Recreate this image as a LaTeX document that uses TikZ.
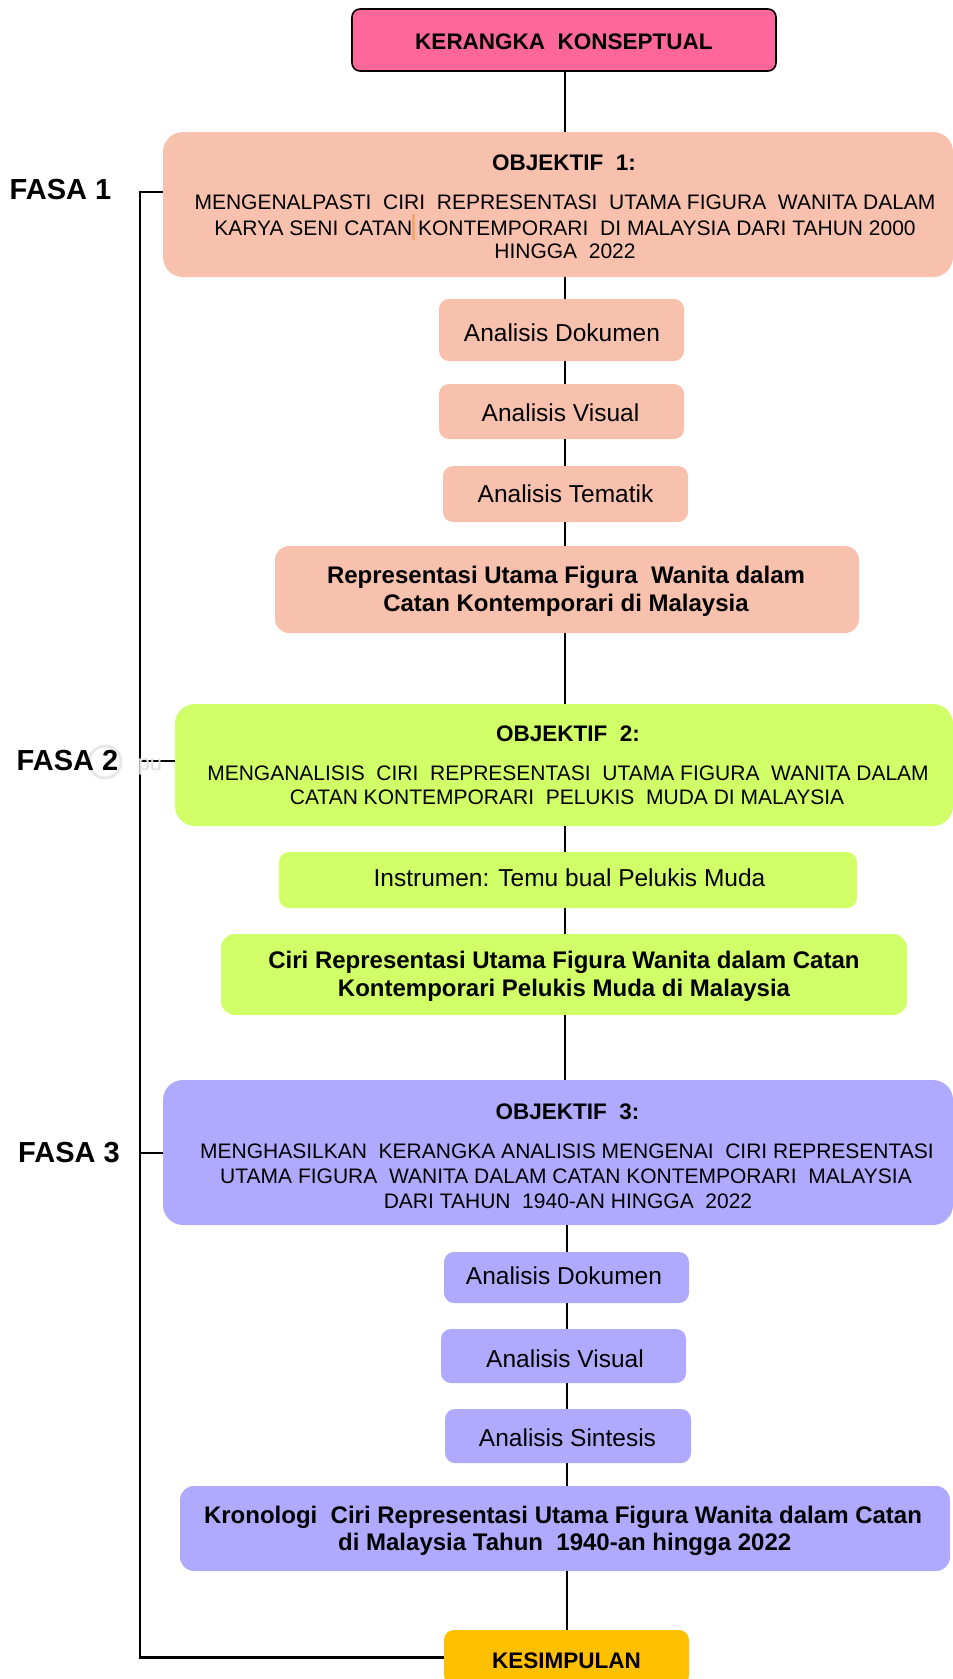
\documentclass[tikz,border=0pt]{standalone}
\usepackage{fontspec}
\setmainfont{Liberation Sans}
\definecolor{kkpink}{HTML}{FF6699}
\definecolor{salmon}{HTML}{F8C1AE}
\definecolor{lime}{HTML}{D0FF68}
\definecolor{lav}{HTML}{B0AAFF}
\definecolor{gold}{HTML}{FFC000}
\definecolor{cursor}{HTML}{F0A870}
\newcommand\myTitle{\bfseries\fontsize{22.5}{26}\selectfont}
\newcommand\myBody{\fontsize{21}{24}\selectfont}
\newcommand\mySmall{\fontsize{24.5}{28}\selectfont}
\newcommand\myBold{\bfseries\fontsize{24}{28}\selectfont}
\newcommand\myFasa{\bfseries\fontsize{29}{33}\selectfont}
\begin{document}
\begin{tikzpicture}[x=1pt,y=-1pt,
  box/.style={rectangle, rounded corners=#1, draw=none, inner sep=0pt, outer sep=0pt},
  box/.default=10pt,
  tl/.style={inner sep=0pt, anchor=base},
  conn/.style={line width=1.8pt, black},
  lline/.style={line width=2.2pt, black}]
\useasboundingbox (0,0) rectangle (953,1679);
\clip (0,0) rectangle (953,1679);
\fill[white] (0,0) rectangle (953,1679);

% spine coordinates
\coordinate (spA) at (565,0);
\coordinate (spB) at (567,0);

% boxes
\node[box=8pt, fill=kkpink, draw=black, line width=1.6pt, minimum width=424pt, minimum height=62pt] (kk) at (564,40) {};
\node[box=20pt, fill=salmon, minimum width=790pt, minimum height=145pt] (o1) at (558,204.5) {};
\node[box, fill=salmon, minimum width=245pt, minimum height=62pt] (ad1) at (561.5,330) {};
\node[box, fill=salmon, minimum width=245pt, minimum height=55pt] (av1) at (561.5,411.5) {};
\node[box, fill=salmon, minimum width=245pt, minimum height=56pt] (at1) at (565.5,494) {};
\node[box=14pt, fill=salmon, minimum width=584pt, minimum height=87pt] (rep) at (567,589.5) {};
\node[box=20pt, fill=lime, minimum width=778pt, minimum height=122pt] (o2) at (564,765) {};
\node[box, fill=lime, minimum width=578pt, minimum height=56pt] (ins) at (568,880) {};
\node[box=14pt, fill=lime, minimum width=686pt, minimum height=81pt] (ciri) at (564,974.5) {};
\node[box=20pt, fill=lav, minimum width=790pt, minimum height=145pt] (o3) at (558,1152.5) {};
\node[box, fill=lav, minimum width=245pt, minimum height=51pt] (ad3) at (566.5,1277.5) {};
\node[box, fill=lav, minimum width=245pt, minimum height=54pt] (av3) at (563.5,1356) {};
\node[box, fill=lav, minimum width=246pt, minimum height=54pt] (as3) at (568,1436) {};
\node[box=14pt, fill=lav, minimum width=770pt, minimum height=85pt] (kr) at (565,1528.5) {};
\node[box, fill=gold, minimum width=245pt, minimum height=55pt] (kes) at (566.5,1657.5) {};

% spine connectors
\foreach \a/\b in {kk/o1, o1/ad1, ad1/av1, av1/at1, at1/rep, rep/o2, o2/ins, ins/ciri, ciri/o3}
  \draw[conn] (\a.south -| spA) -- (\b.north -| spA);
\foreach \a/\b in {o3/ad3, ad3/av3, av3/as3, as3/kr, kr/kes}
  \draw[conn] (\a.south -| spB) -- (\b.north -| spB);

% phase line
\coordinate (t1) at (140,192);
\coordinate (t2) at (140,761);
\coordinate (t3) at (140,1153);
\draw[lline] (t1 -| o1.west) -- (t1) |- (kes.west);
\draw[lline] (t2) -- (t2 -| o2.west);
\draw[lline] (t3) -- (t3 -| o3.west);

% faint watermark near FASA 2
\draw[gray!18, line width=3pt] (105,762) circle (16);
\node[tl, text=gray!25, font=\fontsize{22}{24}\selectfont] (wm2) at (150,770) {pu};

% phase labels
\node[tl, font=\myFasa] (f1) at (60.5,199) {FASA 1};
\node[tl, font=\myFasa] (f2) at (67.5,770) {FASA 2};
\node[tl, font=\myFasa] (f3) at (69,1162) {FASA 3};

% texts
\node[tl, font=\myTitle] (kkt) at (564,49) {KERANGKA~ KONSEPTUAL};

\node[tl, font=\myTitle] (o1t) at (564,170) {OBJEKTIF~ 1:};
\node[tl, font=\myBody] (o1a) at (565,209) {MENGENALPASTI~ CIRI~ REPRESENTASI~ UTAMA FIGURA~ WANITA DALAM};
\node[tl, font=\myBody] (o1b) at (565,235) {KARYA SENI CATAN KONTEMPORARI~ DI MALAYSIA DARI TAHUN 2000};
\node[tl, font=\myBody] (o1c) at (565,258) {HINGGA~ 2022};
\fill[cursor] (412,214) rectangle (415,240);

\node[tl, font=\mySmall] (ad1t) at (562,341.5) {Analisis Dokumen};
\node[tl, font=\mySmall] (av1t) at (560.5,421.5) {Analisis Visual};
\node[tl, font=\mySmall] (at1t) at (565.5,502.5) {Analisis Tematik};
\node[tl, font=\myBold] (rep1) at (566,583) {Representasi Utama Figura~ Wanita dalam};
\node[tl, font=\myBold] (rep2) at (566,611.5) {Catan Kontemporari di Malaysia};

\node[tl, font=\myTitle] (o2t) at (568,741.5) {OBJEKTIF~ 2:};
\node[tl, font=\myBody] (o2a) at (568,780) {MENGANALISIS~ CIRI~ REPRESENTASI~ UTAMA FIGURA~ WANITA DALAM};
\node[tl, font=\myBody] (o2b) at (567,804) {CATAN KONTEMPORARI~ PELUKIS~ MUDA DI MALAYSIA};
\node[tl, font=\mySmall] (inst) at (569.5,886.5) {Instrumen: Temu bual Pelukis Muda};
\node[tl, font=\myBold] (ciri1) at (564,968) {Ciri Representasi Utama Figura Wanita dalam Catan};
\node[tl, font=\myBold] (ciri2) at (564,996) {Kontemporari Pelukis Muda di Malaysia};

\node[tl, font=\myTitle] (o3t) at (567.5,1119.3) {OBJEKTIF~ 3:};
\node[tl, font=\myBody] (o3a) at (567,1158.3) {MENGHASILKAN~ KERANGKA ANALISIS MENGENAI~ CIRI REPRESENTASI};
\node[tl, font=\myBody] (o3b) at (566,1183.3) {UTAMA FIGURA~ WANITA DALAM CATAN KONTEMPORARI~ MALAYSIA};
\node[tl, font=\myBody] (o3c) at (568,1208.3) {DARI TAHUN~ 1940-AN HINGGA~ 2022};
\node[tl, font=\mySmall] (ad3t) at (564,1284.3) {Analisis Dokumen};
\node[tl, font=\mySmall] (av3t) at (565,1367.5) {Analisis Visual};
\node[tl, font=\mySmall] (as3t) at (567.5,1446) {Analisis Sintesis};
\node[tl, font=\myBold] (kr1) at (563,1523.3) {Kronologi~ Ciri Representasi Utama Figura Wanita dalam Catan};
\node[tl, font=\myBold] (kr2) at (564.7,1550.7) {di Malaysia Tahun~ 1940-an hingga 2022};
\node[tl, font=\myTitle] (kest) at (566.5,1668.3) {KESIMPULAN};
\end{tikzpicture}
\end{document}
